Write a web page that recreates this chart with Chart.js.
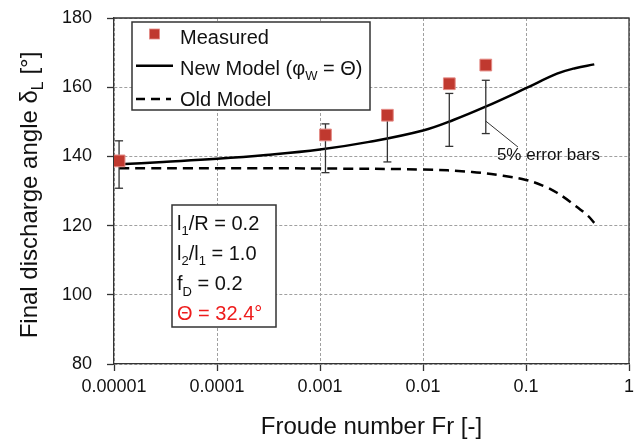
<!DOCTYPE html>
<html><head><meta charset="utf-8">
<script src="https://cdn.jsdelivr.net/npm/chart.js@4.4.1/dist/chart.umd.min.js"></script>
<style>html,body{margin:0;padding:0;background:#fff;}canvas{display:block;}</style>
</head><body>
<canvas id="c" width="644" height="442"></canvas>
<script>
const measuredFr = [0.0000112, 0.00113, 0.00451, 0.0180, 0.0407];
const measuredAngle = [138.7, 146.2, 151.9, 161.0, 166.4];
const errorLow = [130.8, 135.3, 138.4, 142.9, 146.6];
const errorHigh = [144.5, 149.4, 153.0, 158.2, 162.0];
const newModelFr = [0.0000112, 0.00003, 0.0001, 0.0003, 0.001, 0.003, 0.01, 0.02, 0.04, 0.1, 0.2, 0.3, 0.46];
const newModelAngle = [137.7, 138.4, 139.3, 140.4, 142.0, 144.2, 147.5, 150.6, 154.3, 159.7, 163.9, 165.5, 166.6];
const oldModelFr = [0.0000112, 0.0001, 0.001, 0.01, 0.03, 0.06, 0.1, 0.15, 0.2, 0.3, 0.4, 0.46];
const oldModelAngle = [136.6, 136.6, 136.5, 136.2, 135.5, 134.4, 133.2, 131.4, 129.5, 125.8, 122.8, 120.8];
const xTickValues = [0.00001, 0.0001, 0.001, 0.01, 0.1, 1];
const xTickLabels = ['0.00001', '0.0001', '0.001', '0.01', '0.1', '1'];
const yMin = 80, yMax = 180, yStep = 20;
const annotationFrom = {x: 0.0407, y: 150.2};
const annotationTo = {x: 0.0836, y: 142.7};
const annotationText = {x: 0.0522, y: 140.4, t: '5% error bars'};

const FONT = '"Liberation Sans", Arial, Helvetica, sans-serif';
const RED = '#C0392F';

function richWidth(ctx, parts, size) {
  let w = 0;
  for (const p of parts) {
    const s = p.sub ? Math.round(size * 0.65) : size;
    ctx.font = s + 'px ' + FONT;
    w += ctx.measureText(p.t).width;
  }
  return w;
}
function richText(ctx, parts, x, y, size, color) {
  let cx = x;
  ctx.textAlign = 'left';
  ctx.textBaseline = 'alphabetic';
  for (const p of parts) {
    const s = p.sub ? Math.round(size * 0.65) : size;
    ctx.font = s + 'px ' + FONT;
    ctx.fillStyle = p.color || color;
    ctx.fillText(p.t, cx, y + (p.sub ? size * 0.27 : 0));
    cx += ctx.measureText(p.t).width;
  }
  return cx - x;
}

const decor = {
  id: 'decor',
  afterDraw(chart) {
    const ctx = chart.ctx;
    const a = chart.chartArea;
    const xs = chart.scales.x, ys = chart.scales.y;
    ctx.save();
    // frame top/right
    ctx.strokeStyle = '#333';
    ctx.lineWidth = 1.3;
    ctx.beginPath();
    ctx.moveTo(a.left, a.top); ctx.lineTo(a.right, a.top); ctx.lineTo(a.right, a.bottom);
    ctx.stroke();

    // annotation
    ctx.strokeStyle = '#333';
    ctx.lineWidth = 1;
    ctx.beginPath();
    ctx.moveTo(xs.getPixelForValue(annotationFrom.x), ys.getPixelForValue(annotationFrom.y));
    ctx.lineTo(xs.getPixelForValue(annotationTo.x), ys.getPixelForValue(annotationTo.y));
    ctx.stroke();
    ctx.font = '17px ' + FONT;
    ctx.fillStyle = '#111';
    ctx.textAlign = 'left';
    ctx.textBaseline = 'middle';
    ctx.fillText(annotationText.t, xs.getPixelForValue(annotationText.x), ys.getPixelForValue(annotationText.y));

    // legend box
    ctx.fillStyle = '#fff';
    ctx.fillRect(132, 22, 238, 88);
    ctx.strokeStyle = '#333';
    ctx.lineWidth = 1.5;
    ctx.strokeRect(132, 22, 238, 88);
    ctx.fillStyle = RED;
    ctx.fillRect(149.5, 29, 10, 10);
    ctx.strokeStyle = '#E48A85';
    ctx.lineWidth = 0.8;
    ctx.strokeRect(149.5, 29, 10, 10);
    richText(ctx, [{t: 'Measured'}], 180, 44, 20, '#111');
    ctx.strokeStyle = '#000';
    ctx.lineWidth = 2.5;
    ctx.beginPath(); ctx.moveTo(136, 65.7); ctx.lineTo(173, 65.7); ctx.stroke();
    richText(ctx, [{t: 'New Model (\u03C6'}, {t: 'W', sub: true}, {t: ' = \u0398)'}], 180, 75, 20, '#111');
    ctx.setLineDash([9, 6]);
    ctx.beginPath(); ctx.moveTo(136, 99); ctx.lineTo(171, 99); ctx.stroke();
    ctx.setLineDash([]);
    richText(ctx, [{t: 'Old Model'}], 180, 106, 20, '#111');

    // parameter box
    ctx.fillStyle = '#fff';
    ctx.fillRect(172, 205, 104, 122);
    ctx.strokeStyle = '#333';
    ctx.lineWidth = 1.5;
    ctx.strokeRect(172, 205, 104, 122);
    const lines = [
      [{t: 'l'}, {t: '1', sub: true}, {t: '/R = 0.2'}],
      [{t: 'l'}, {t: '2', sub: true}, {t: '/l'}, {t: '1', sub: true}, {t: ' = 1.0'}],
      [{t: 'f'}, {t: 'D', sub: true}, {t: ' = 0.2'}],
      [{t: '\u0398 = 32.4\u00B0', color: '#EE1C1C'}]
    ];
    lines.forEach((l, i) => richText(ctx, l, 177, 229.5 + 30.3 * i, 20, '#111'));

    // axis titles
    const yt = [{t: 'Final discharge angle \u03B4'}, {t: 'L', sub: true}, {t: ' [\u00B0]'}];
    ctx.save();
    ctx.translate(37, 195);
    ctx.rotate(-Math.PI / 2);
    const w = richWidth(ctx, yt, 24);
    richText(ctx, yt, -w / 2, 0, 24, '#111');
    ctx.restore();
    const xt = [{t: 'Froude number Fr [-]'}];
    const wx = richWidth(ctx, xt, 24);
    richText(ctx, xt, (a.left + a.right) / 2 - wx / 2, 434, 24, '#111');
    ctx.restore();
  }
};

const errData = [];
measuredFr.forEach((f, i) => {
  errData.push({x: f, y: errorLow[i]}, {x: f, y: errorHigh[i]}, {x: f, y: null});
});

const gridCommon = {
  color: '#a0a0a0', lineWidth: 1, tickLength: 7, tickColor: '#333', tickWidth: 1.3, tickBorderDash: []
};
const borderCommon = {display: true, color: '#333', width: 1.3, dash: [3, 2]};

new Chart(document.getElementById('c'), {
  type: 'line',
  data: {
    datasets: [
      {
        label: 'Measured',
        data: measuredFr.map((f, i) => ({x: f, y: measuredAngle[i]})),
        showLine: false, pointStyle: 'rect', pointRadius: 8.3,
        pointBackgroundColor: RED, pointBorderColor: '#E48A85', pointBorderWidth: 1, order: 0
      },
      {
        label: 'Error',
        data: errData, spanGaps: false, tension: 0,
        borderColor: '#333', borderWidth: 1.3,
        pointStyle: 'line', pointRadius: 4, pointBorderColor: '#333', pointBorderWidth: 1.3, order: 1
      },
      {
        label: 'New Model',
        data: newModelFr.map((f, i) => ({x: f, y: newModelAngle[i]})),
        borderColor: '#000', borderWidth: 2.5, pointRadius: 0,
        tension: 0.4, order: 2
      },
      {
        label: 'Old Model',
        data: oldModelFr.map((f, i) => ({x: f, y: oldModelAngle[i]})),
        borderColor: '#000', borderWidth: 2.5, borderDash: [10, 6], pointRadius: 0,
        tension: 0.4, order: 3
      }
    ]
  },
  options: {
    responsive: false, animation: false, devicePixelRatio: 1,
    layout: {padding: {top: 18, right: 15, left: 0, bottom: 0}},
    plugins: {legend: {display: false}, tooltip: {enabled: false}},
    scales: {
      x: {
        type: 'logarithmic', min: 0.00001, max: 1,
        afterBuildTicks: s => { s.ticks = xTickValues.map(v => ({value: v})); },
        afterFit: s => { s.height = 78; s.paddingLeft = 0; s.paddingRight = 0; },
        ticks: {callback: (v, i) => xTickLabels[i], font: {family: FONT, size: 18}, color: '#111',
                padding: 5, maxRotation: 0, autoSkip: false},
        grid: gridCommon, border: borderCommon
      },
      y: {
        min: yMin, max: yMax,
        afterFit: s => { s.width = 114; s.paddingTop = 0; s.paddingBottom = 0; },
        ticks: {stepSize: yStep, font: {family: FONT, size: 18}, color: '#111', padding: 15},
        grid: gridCommon, border: borderCommon
      }
    }
  },
  plugins: [decor]
});
</script>
</body></html>
